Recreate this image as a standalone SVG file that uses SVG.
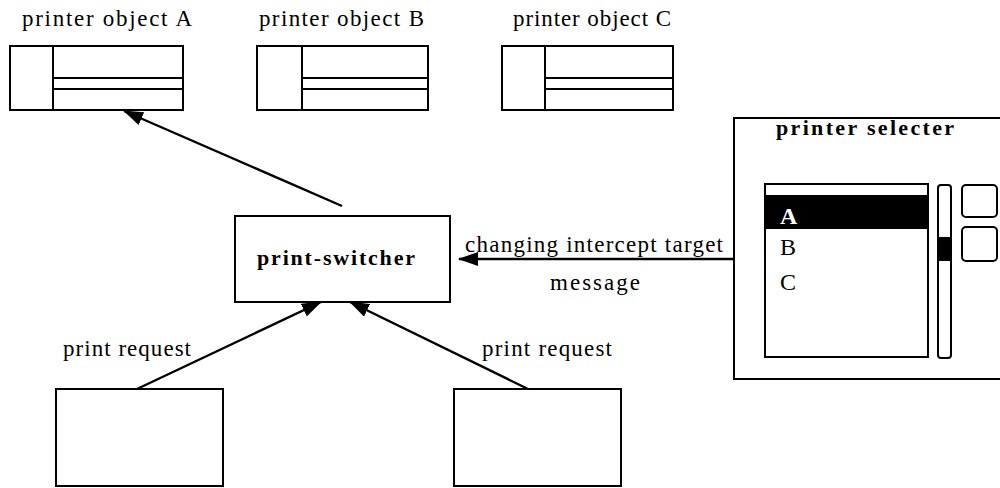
<svg xmlns="http://www.w3.org/2000/svg" width="1000" height="488" viewBox="0 0 1000 488">
  <defs>
    <style>
      .box { fill: #fff; stroke: #000; stroke-width: 2; }
      .ln { stroke: #000; stroke-width: 2; fill: none; }
      .edge { stroke: #000; stroke-width: 2.4; fill: none; }
      .t { font-family: "Liberation Serif", "Times New Roman", serif; font-size: 23px; fill: #000; }
      .tb { font-family: "Liberation Serif", "Times New Roman", serif; font-size: 22px; font-weight: bold; fill: #000; }
      .big { font-size: 24px; }
      .inv { fill: #fff; }
    </style>
    <marker id="arrow" viewBox="0 0 20 14" refX="19" refY="7" markerWidth="20" markerHeight="14" markerUnits="userSpaceOnUse" orient="auto">
      <path d="M0,0 L20,7 L0,14 Z" fill="#000"/>
    </marker>
  </defs>
  <rect width="1000" height="488" fill="#fff"/>

  <!-- printer objects -->
  <g id="printer-a">
    <text class="t" x="22" y="26" textLength="170" lengthAdjust="spacing">printer object A</text>
    <rect class="box" x="10" y="46" width="173" height="64"/>
    <line class="ln" x1="53" y1="46" x2="53" y2="110"/>
    <line class="ln" x1="53" y1="78" x2="183" y2="78" stroke-width="2.5"/>
    <line class="ln" x1="53" y1="89" x2="183" y2="89"/>
  </g>
  <g id="printer-b">
    <text class="t" x="259" y="26" textLength="165" lengthAdjust="spacing">printer object B</text>
    <rect class="box" x="257" y="46" width="171" height="64"/>
    <line class="ln" x1="302" y1="46" x2="302" y2="110"/>
    <line class="ln" x1="302" y1="78" x2="428" y2="78" stroke-width="2.5"/>
    <line class="ln" x1="302" y1="89" x2="428" y2="89"/>
  </g>
  <g id="printer-c">
    <text class="t" x="513" y="26" textLength="158" lengthAdjust="spacing">printer object C</text>
    <rect class="box" x="502" y="46" width="171" height="64"/>
    <line class="ln" x1="545" y1="46" x2="545" y2="110"/>
    <line class="ln" x1="545" y1="78" x2="673" y2="78" stroke-width="2.5"/>
    <line class="ln" x1="545" y1="89" x2="673" y2="89"/>
  </g>

  <!-- switcher -->
  <g id="print-switcher">
    <rect class="box" x="235" y="216" width="215" height="86"/>
    <text class="tb" x="257" y="265" textLength="158" lengthAdjust="spacing">print-switcher</text>
  </g>

  <!-- request sources -->
  <g id="requester-left">
    <rect class="box" x="56" y="389" width="167" height="97"/>
  </g>
  <g id="requester-right">
    <rect class="box" x="454" y="389" width="167" height="97"/>
  </g>

  <!-- selector panel -->
  <g id="printer-selecter">
    <rect class="box" x="734" y="118" width="280" height="261"/>
    <text class="tb" x="776" y="135" textLength="178" lengthAdjust="spacing">printer selecter</text>
    <rect class="box" x="765" y="184" width="163" height="173"/>
    <rect x="766" y="195" width="161" height="34" fill="#000"/>
    <text class="tb big inv" x="780" y="224">A</text>
    <text class="t big" x="780" y="255">B</text>
    <text class="t big" x="780" y="290">C</text>
    <rect class="box" x="938" y="185" width="13" height="173" rx="3"/>
    <rect x="939" y="237" width="11" height="24" fill="#000"/>
    <rect class="box" x="962" y="185" width="35" height="32" rx="4"/>
    <rect class="box" x="962" y="227" width="35" height="34" rx="4"/>
  </g>

  <!-- connectors -->
  <g id="connectors">
    <line class="edge" x1="342" y1="206" x2="124" y2="111" marker-end="url(#arrow)"/>
    <line class="edge" x1="734" y1="259" x2="459" y2="259" marker-end="url(#arrow)"/>
    <line class="edge" x1="137" y1="389" x2="321" y2="302" marker-end="url(#arrow)"/>
    <line class="edge" x1="528" y1="389" x2="350" y2="302" marker-end="url(#arrow)"/>
    <text class="t" x="465" y="252" textLength="258" lengthAdjust="spacing">changing intercept target</text>
    <text class="t" x="550" y="290" textLength="90" lengthAdjust="spacing">message</text>
    <text class="t" x="63" y="356" textLength="128" lengthAdjust="spacing">print request</text>
    <text class="t" x="482" y="356" textLength="130" lengthAdjust="spacing">print request</text>
  </g>
</svg>
